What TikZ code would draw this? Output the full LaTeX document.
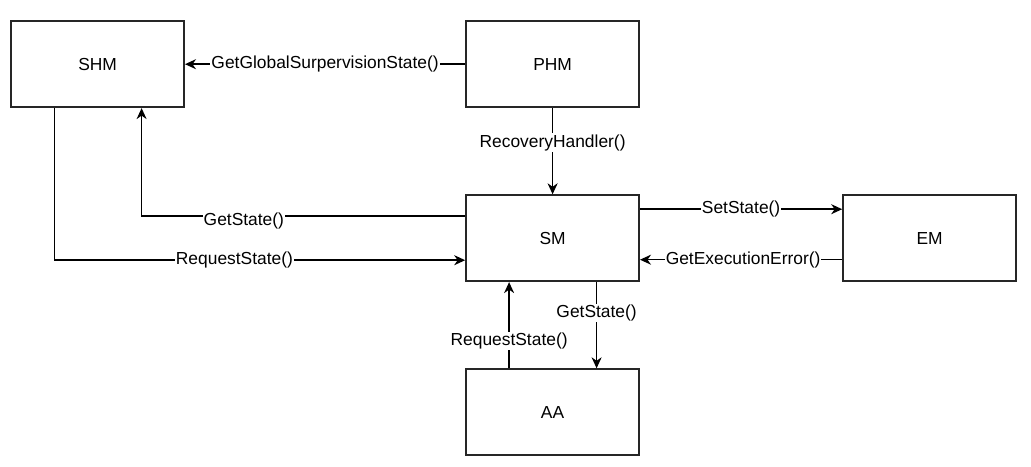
\documentclass[tikz,border=0pt]{standalone}
\usepackage{fontspec}
\setmainfont{Liberation Sans}
\usetikzlibrary{arrows.meta}

\begin{document}
\begin{tikzpicture}[
			node distance=174pt,
			base/.style={draw=black!85, line width=1.8pt, text=black, font=\fontsize{17.4}{20}\selectfont},
			block/.style={base, minimum width=173pt, minimum height=86pt, inner sep=0pt, text centered},
			msg/.style={fill=white, inner sep=1pt, text=black, font=\fontsize{17.4}{20}\selectfont},
			link/.style={line width=1.5pt, -{Stealth[length=11pt, width=10pt, inset=3.5pt]}},
		]

		\useasboundingbox (-97.6pt,64.2pt) rectangle (933.4pt,-401.8pt);

		\node[block] (shm) {SHM};
		\node[block, right of=shm, xshift=281pt] (phm) {PHM};
		\node[block, below of=phm] (sm) {SM};
		\node[block, right of=sm, xshift=203pt] (em) {EM};
		\node[block, below of=sm] (aa) {AA};

		\draw[link] (phm.west) -- node[msg] {GetGlobalSurpervisionState()} (phm.west -| shm.east);
		\draw[link] (phm) -- node[msg, pos=0.4] {RecoveryHandler()} (sm);
		\draw[link] ([yshift=22pt]sm.west) -| node[msg, pos=0.342, yshift=-5pt] {GetState()} ([xshift=44pt]shm.south);
		\draw[link] ([xshift=-43pt]shm.south) |- node[msg, pos=0.719] {RequestState()} ([yshift=-22pt]sm.west);
		\draw[link] ([yshift=29pt]sm.east) -- node[msg] {SetState()} ([yshift=29pt]em.west);
		\draw[link] ([yshift=-21.5pt]em.west) -- node[msg, pos=0.49] {GetExecutionError()} ([yshift=-21.5pt]sm.east);
		\draw[link] ([xshift=44pt]sm.south) -- node[msg, pos=0.356] {GetState()} ([xshift=44pt]aa.north);
		\draw[link] ([xshift=-43.5pt]aa.north) -- node[msg, pos=0.32] {RequestState()} ([xshift=-43.5pt]sm.south);

		\end{tikzpicture}
\end{document}
